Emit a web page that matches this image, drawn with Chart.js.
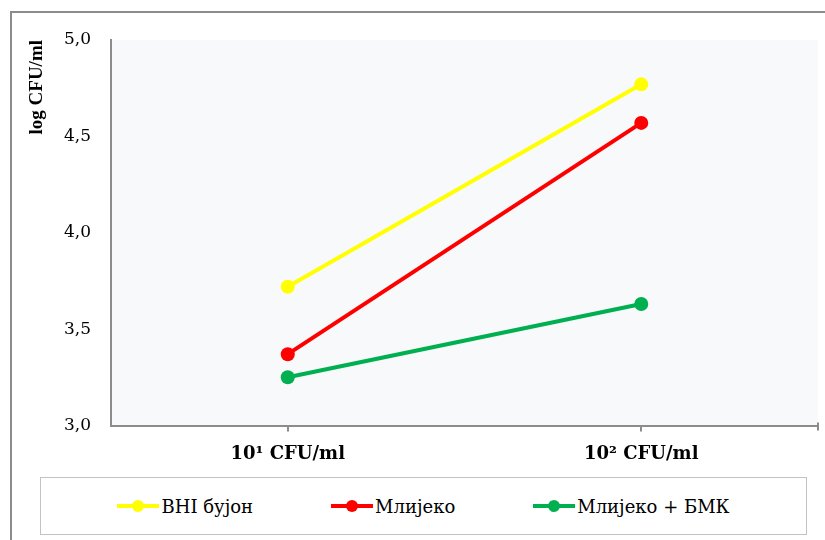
<!DOCTYPE html>
<html>
<head>
<meta charset="utf-8">
<script src="https://cdn.jsdelivr.net/npm/chart.js@4.4.0/dist/chart.umd.min.js"></script>
<style>
  html, body { margin: 0; padding: 0; background: #fff; overflow: hidden; }
  #wrap { position: relative; width: 825px; height: 540px; overflow: hidden; }
  #frame { position: absolute; left: 10px; top: 11px; width: 900px; height: 700px; border: 2px solid #8c8c8c; }
  canvas { position: absolute; left: 0; top: 0; }
  #legend {
    position: absolute; left: 40px; top: 477px; width: 765px; height: 56px;
    border: 1.5px solid #c3c3c3; background: #fff;
    display: flex; align-items: center; justify-content: center; gap: 78px;
    font-family: "DejaVu Serif", serif; font-size: 18px; color: #000;
  }
  .item { display: flex; align-items: center; }
  .swatch { position: relative; width: 42px; height: 12px; margin-right: 2px; }
  .swatch .ln { position: absolute; left: 0; right: 0; top: 4px; height: 4px; }
  .swatch .dot { position: absolute; left: 15px; top: 0; width: 12px; height: 12px; border-radius: 50%; }
</style>
</head>
<body>
<div id="wrap">
  <div id="frame"></div>
  <canvas id="chart" width="825" height="540"></canvas>
  <div id="legend"></div>
</div>
<script>
// podaci sa grafikona
const categories = ["10\u00b9 CFU/ml", "10\u00b2 CFU/ml"];
const seriesNames = ["BHI бујон", "Млијеко", "Млијеко + БМК"];
const bhiValues = [3.72, 4.77];
const milkValues = [3.37, 4.57];
const milkBmkValues = [3.25, 3.63];
const seriesColors = ["#ffff00", "#ff0000", "#00b050"];
const yMin = 3.0, yMax = 5.0, yStep = 0.5;

const seriesValues = [bhiValues, milkValues, milkBmkValues];

// pozadina plot area + kraj x ose
const plotBg = {
  id: "plotBg",
  beforeDraw(chart) {
    const { ctx, chartArea: a } = chart;
    ctx.save();
    ctx.fillStyle = "#f8f9fb";
    ctx.fillRect(a.left, a.top, a.right - a.left, a.bottom - a.top);
    ctx.restore();
  },
  afterDraw(chart) {
    const { ctx, chartArea: a } = chart;
    ctx.save();
    ctx.strokeStyle = "#8c8c8c";
    ctx.lineWidth = 2;
    ctx.beginPath();
    ctx.moveTo(a.right, a.bottom - 3);
    ctx.lineTo(a.right, a.bottom + 5);
    ctx.stroke();
    ctx.restore();
  }
};

new Chart(document.getElementById("chart"), {
  type: "line",
  data: {
    labels: categories,
    datasets: seriesNames.map((name, i) => ({
      label: name,
      data: seriesValues[i],
      borderColor: seriesColors[i],
      backgroundColor: seriesColors[i],
      borderWidth: 4,
      pointRadius: 7,
      pointHoverRadius: 7,
      pointBorderWidth: 0,
      tension: 0
    }))
  },
  options: {
    responsive: false,
    animation: false,
    layout: { padding: { top: 40, right: 5, bottom: 74.5, left: 0 } },
    plugins: { legend: { display: false }, tooltip: { enabled: false } },
    scales: {
      x: {
        offset: true,
        afterFit: s => { s.height = 40; },
        border: { display: true, color: "#8c8c8c", width: 2 },
        grid: { offset: false, drawOnChartArea: false, drawTicks: true, tickLength: 6, color: "#8c8c8c", lineWidth: 2 },
        ticks: { color: "#000", padding: 12, font: { family: "DejaVu Serif", size: 18, weight: "bold" } }
      },
      y: {
        min: yMin, max: yMax,
        afterFit: s => { s.width = 111; },
        border: { display: true, color: "#8c8c8c", width: 2 },
        grid: { display: false, drawTicks: false },
        ticks: {
          stepSize: yStep, padding: 20, color: "#000",
          font: { family: "DejaVu Serif", size: 17 },
          callback: v => v.toFixed(1).replace(".", ",")
        },
        title: {
          display: true, text: "log CFU/ml", align: "end", color: "#000",
          font: { family: "Liberation Serif", size: 19, weight: "bold" },
          padding: { top: 26, bottom: 0 }
        }
      }
    }
  },
  plugins: [plotBg]
});

// legenda
const legend = document.getElementById("legend");
seriesNames.forEach((name, i) => {
  const item = document.createElement("div");
  item.className = "item";
  item.innerHTML = `<span class="swatch"><span class="ln" style="background:${seriesColors[i]}"></span>` +
    `<span class="dot" style="background:${seriesColors[i]}"></span></span><span>${name}</span>`;
  legend.appendChild(item);
});
</script>
</body>
</html>
